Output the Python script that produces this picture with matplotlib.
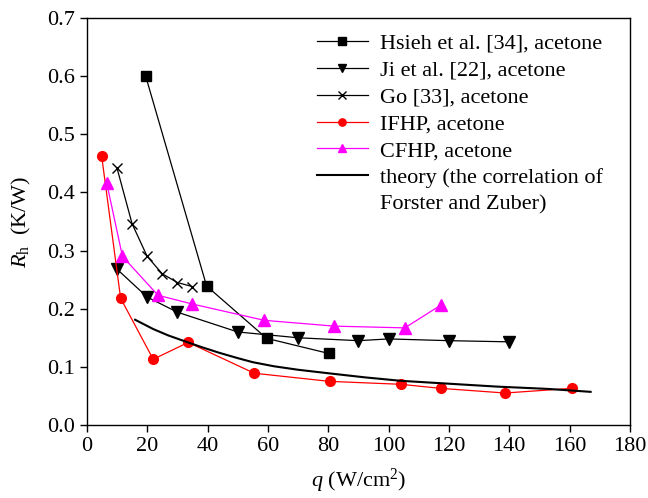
import matplotlib.pyplot as plt
from matplotlib.lines import Line2D
from matplotlib.ticker import FormatStrFormatter

plt.rcParams["font.family"] = ["Liberation Serif", "DejaVu Serif"]
plt.rcParams["mathtext.fontset"] = "custom"
plt.rcParams["mathtext.rm"] = "Liberation Serif"
plt.rcParams["mathtext.it"] = "Liberation Serif:italic"

# Hsieh et al. [34]
hsieh_q = [19.5, 39.7, 59.6, 80.2]
hsieh_r = [0.600, 0.239, 0.149, 0.123]

# Ji et al. [22]
ji_q = [10, 20, 30, 50, 70, 90, 100, 120, 140]
ji_r = [0.268, 0.220, 0.194, 0.160, 0.150, 0.145, 0.148, 0.145, 0.143]

# Go [33]
go_q = [10, 15, 20, 25, 30, 35]
go_r = [0.442, 0.346, 0.290, 0.260, 0.245, 0.238]

# IFHP
ifhp_q = [4.9, 11.2, 22, 33.6, 55.5, 80.5, 104, 117.3, 138.6, 160.8]
ifhp_r = [0.463, 0.218, 0.113, 0.142, 0.089, 0.075, 0.070, 0.063, 0.055, 0.063]

# CFHP
cfhp_q = [6.6, 11.8, 23.6, 35, 58.8, 82, 105.4, 117.3]
cfhp_r = [0.416, 0.290, 0.223, 0.208, 0.180, 0.170, 0.167, 0.206]

# theory (Forster-Zuber correlation)
th_q = [16, 19, 22, 27, 33, 38, 44, 50, 55, 62, 70, 80, 92, 104, 120, 136, 153, 167]
th_r = [0.181, 0.173, 0.165, 0.154, 0.143, 0.134, 0.124, 0.115, 0.108, 0.101,
        0.095, 0.089, 0.082, 0.076, 0.071, 0.066, 0.062, 0.057]

fig = plt.figure(figsize=(6.48, 4.98), dpi=100)
ax = fig.add_axes([0.134, 0.1466, 0.838, 0.8174])

lw = 0.9
ax.plot(hsieh_q, hsieh_r, "-s", color="black", lw=lw, ms=7, label="Hsieh et al. [34], acetone")
ax.plot(ji_q, ji_r, "-v", color="black", lw=lw, ms=8, label="Ji et al. [22], acetone")
ax.plot(go_q, go_r, "-x", color="black", lw=lw, ms=7, mew=1.0, label="Go [33], acetone")
ax.plot(ifhp_q, ifhp_r, "-o", color="#ff0000", lw=lw, ms=7, label="IFHP, acetone")
ax.plot(cfhp_q, cfhp_r, "-^", color="#ff00ff", lw=lw, ms=8, label="CFHP, acetone")
ax.plot(th_q, th_r, "-", color="black", lw=1.5, label="theory (the correlation of")

ax.set_xlim(0, 180)
ax.set_ylim(0, 0.7)
ax.set_xticks(range(0, 181, 20))
ax.set_yticks([i / 10 for i in range(8)])
ax.yaxis.set_major_formatter(FormatStrFormatter("%.1f"))
ax.tick_params(direction="out", length=5, width=1, labelsize=16)
for s in ax.spines.values():
    s.set_linewidth(1)

ax.set_xlabel(r"$q$ (W/cm$^2$)", fontsize=16, labelpad=8)
ax.set_ylabel(r"$R_\mathrm{h}$  (K/W)", fontsize=16, labelpad=10)

# second line of the theory label sits on its own row, with the handle on the first
handles, labels = ax.get_legend_handles_labels()
handles.append(Line2D([], [], color="none"))
labels.append("Forster and Zuber)")
ax.legend(handles, labels, loc="upper left", frameon=False, fontsize=16,
          handlelength=2.3, handletextpad=0.55, markerscale=0.75, labelspacing=0.28,
          borderpad=0, borderaxespad=0, bbox_to_anchor=(0.4236, 0.962))

fig.savefig("out.png", dpi=100)
